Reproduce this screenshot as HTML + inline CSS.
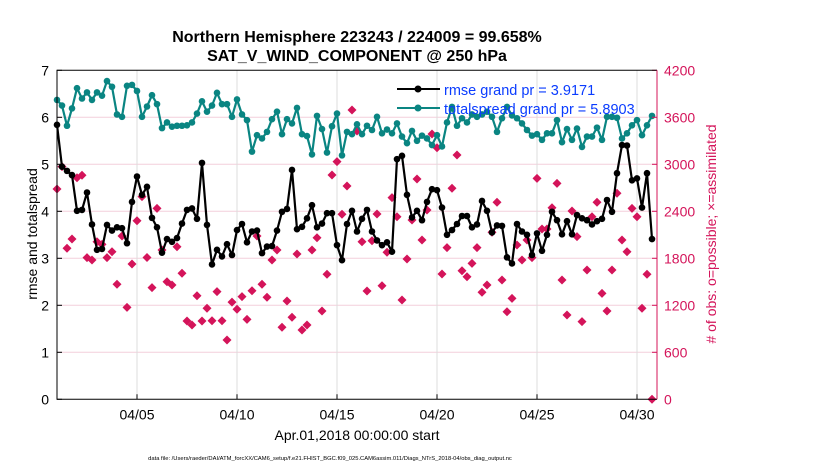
<!DOCTYPE html>
<html><head><meta charset="utf-8"><style>
body{margin:0;background:#fff;}
svg text{font-family:"Liberation Sans",Arial,sans-serif;}
</style></head><body>
<svg id="chart" width="830" height="470" xmlns="http://www.w3.org/2000/svg">
<g id="grid"></g>
<g id="series"></g>
<g id="axes"></g>
<text x="357" y="42" text-anchor="middle" font-size="16" font-weight="bold">Northern Hemisphere 223243 / 224009 = 99.658%</text>
<text x="357" y="61" text-anchor="middle" font-size="16" font-weight="bold">SAT_V_WIND_COMPONENT @ 250 hPa</text>
<text x="357" y="440" text-anchor="middle" font-size="14">Apr.01,2018 00:00:00 start</text>
<text transform="translate(37,234) rotate(-90)" text-anchor="middle" font-size="14">rmse and totalspread</text>
<text transform="translate(716,234) rotate(-90)" text-anchor="middle" font-size="14" fill="#d4145a"># of obs: o=possible; ×=assimilated</text>
<text x="330" y="460" text-anchor="middle" font-size="5.8">data file: /Users/raeder/DAI/ATM_forcXX/CAM6_setup/f.e21.FHIST_BGC.f09_025.CAM6assim.011/Diags_NTrS_2018-04/obs_diag_output.nc</text>
<g id="legend">
<g>
<line x1="397" y1="89" x2="440" y2="89" stroke="#000" stroke-width="2"/><circle cx="418" cy="89" r="3.5" fill="#000"/>
<text x="444" y="95" font-size="14.5" fill="#0a3cff">rmse grand pr = 3.9171</text></g>
<g>
<line x1="397" y1="108" x2="440" y2="108" stroke="#0a8582" stroke-width="2"/><circle cx="418" cy="108" r="3.5" fill="#0a8582"/>
<text x="444" y="114" font-size="14.5" fill="#0a3cff">totalspread grand pr = 5.8903</text></g>
</g>
</svg>
<script>
const rmse=[5.84,4.95,4.86,4.77,4.01,4.03,4.40,3.72,3.18,3.20,3.71,3.59,3.66,3.64,3.32,4.20,4.74,4.35,4.52,3.86,3.66,3.12,3.41,3.35,3.43,3.74,4.03,4.06,3.84,5.03,3.71,2.87,
3.18,3.04,3.30,3.07,3.60,3.73,3.34,3.57,3.59,3.11,3.25,3.26,3.59,3.99,4.05,4.88,3.62,3.67,3.85,4.13,3.66,3.74,3.96,3.96,3.28,2.96,3.73,4.01,3.57,3.84,
4.03,3.57,3.38,3.28,3.34,3.14,5.11,5.18,4.35,3.87,4.01,3.81,4.20,4.47,4.45,4.08,3.50,3.60,3.73,3.90,3.90,3.66,3.72,4.22,4.01,3.55,3.70,3.69,3.02,2.89,3.73,
3.57,3.50,3.07,3.53,3.16,3.50,3.99,3.81,3.51,3.79,3.51,3.92,3.85,3.81,3.72,3.79,3.84,4.24,3.99,4.81,5.41,5.40,4.66,4.70,4.08,4.81,3.41];
const spread=[6.37,6.25,5.82,6.19,6.62,6.40,6.53,6.37,6.53,6.46,6.77,6.65,6.06,6.01,6.67,6.69,6.56,6.01,6.23,6.47,6.28,5.77,5.89,5.80,5.82,5.82,5.83,5.89,6.08,6.34,6.12,
6.25,6.52,6.28,6.28,6.01,6.38,6.06,5.94,5.27,5.62,5.55,5.69,5.96,6.12,5.64,5.96,5.87,6.20,5.64,5.60,5.21,6.03,5.75,5.25,5.81,6.08,5.19,5.69,5.64,5.85,5.64,
5.82,5.73,6.01,5.66,5.74,5.66,5.87,5.59,5.45,5.71,5.50,5.61,5.55,5.41,5.62,5.38,5.89,6.22,5.82,5.98,5.89,6.06,6.01,6.06,6.12,6.01,5.69,5.98,6.22,6.04,5.98,
5.87,5.73,5.61,5.64,5.52,5.66,5.66,5.94,5.47,5.75,5.52,5.76,5.37,5.59,5.59,5.78,5.52,6.01,6.01,5.99,5.55,5.66,5.83,5.94,5.62,5.83,6.03];
const obsCount=[2684,2970,1928,2046,2828,2860,1808,1778,2012,1978,1808,1884,1468,2085,1174,1727,2280,2587,1810,1425,2438,1906,1500,1459,1948,1609,999,949,1322,999,1162,
1003,1374,1003,757,1240,1149,1310,1021,1386,2085,1468,1302,1778,1906,919,1255,1047,1855,885,949,1906,2063,1127,1596,2863,3034,2362,2723,3693,3425,
2012,1383,2024,2365,1450,1877,2574,2331,1268,1791,2289,2812,2034,2417,3387,3212,1600,1936,2694,3119,1641,1565,1736,1936,1366,1459,2132,2515,1523,1118,1289,
1970,1778,2034,1808,2821,2174,2174,2446,2757,1523,1076,2404,2076,991,1651,2331,2515,1353,1127,1651,2630,2034,1884,2438,2331,1162,1596,0];
const xTickLabels=["04/05","04/10","04/15","04/20","04/25","04/30"];
const xTickDays=[4,9,14,19,24,29];
const yTickLabels=["0","1","2","3","4","5","6","7"];
const yRightLabels=["0","600","1200","1800","2400","3000","3600","4200"];

const NS="http://www.w3.org/2000/svg";
const L=57,R=657,T=70.3,B=399.3;
const xDay=d=>L+d*20;
const xIdx=i=>xDay(i*0.25);
const yL=v=>B-(v/7)*(B-T);
const yR=c=>B-(c/4200)*(B-T);
function mk(tag,parent,attrs){const e=document.createElementNS(NS,tag);for(const k in attrs)e.setAttribute(k,attrs[k]);parent.appendChild(e);return e;}
const grid=document.getElementById('grid'),ser=document.getElementById('series'),ax=document.getElementById('axes');
yTickLabels.forEach((t,i)=>{const y=yL(i);
 if(i>0&&i<7){const g=mk('line',grid,{x1:L,x2:R,y1:y,y2:y,stroke:'#f3cfdc','stroke-width':1});
 
 }
 const tl=mk('line',ax,{x1:L,x2:L+5,y1:y,y2:y,stroke:'#000'});
 
 
 const tx=mk('text',ax,{x:L-8,y:y+5,'text-anchor':'end','font-size':14});tx.textContent=t;
 
 
});
yRightLabels.forEach((t,i)=>{const y=yR(+t);
 const tl=mk('line',ax,{x1:R-5,x2:R,y1:y,y2:y,stroke:'#d4145a'});
 
 
 const tx=mk('text',ax,{x:R+7,y:y+5,'font-size':14,fill:'#d4145a'});tx.textContent=t;
 
 
});
xTickLabels.forEach((t,i)=>{const x=xDay(xTickDays[i]);
 const g=mk('line',grid,{x1:x,x2:x,y1:T,y2:B,stroke:'#dcdcdc'});
 
 
 const tl=mk('line',ax,{x1:x,x2:x,y1:B,y2:B-5,stroke:'#000'});
 
 
 const tx=mk('text',ax,{x:x,y:B+20,'text-anchor':'middle','font-size':14});tx.textContent=t;
 
 
});
const a1=mk('path',ax,{d:`M${R},${T}H${L}V${B}H${R}`,fill:'none',stroke:'#000','stroke-width':1});


const a2=mk('line',ax,{x1:R,x2:R,y1:T,y2:B,stroke:'#d4145a'});


obsCount.forEach((c,i)=>{const x=xIdx(i),y=yR(c);
 const p=mk('path',ser,{d:`M${x},${y-4.5}L${x+4.5},${y}L${x},${y+4.5}L${x-4.5},${y}Z`,fill:'#d4145a'});
 
 
});
function line(vals,color,name){
 const d=vals.map((v,i)=>(i?'L':'M')+xIdx(i).toFixed(1)+','+yL(v).toFixed(1)).join('');
 const p=mk('path',ser,{d:d,fill:'none',stroke:color,'stroke-width':2.2,'stroke-linejoin':'round'});
 
 
 vals.forEach((v,i)=>{const c=mk('circle',ser,{cx:xIdx(i),cy:yL(v),r:3.3,fill:color});
  
  });
}
line(spread,'#0a8582','totalspread');
line(rmse,'#000','rmse');
</script>
</body></html>
